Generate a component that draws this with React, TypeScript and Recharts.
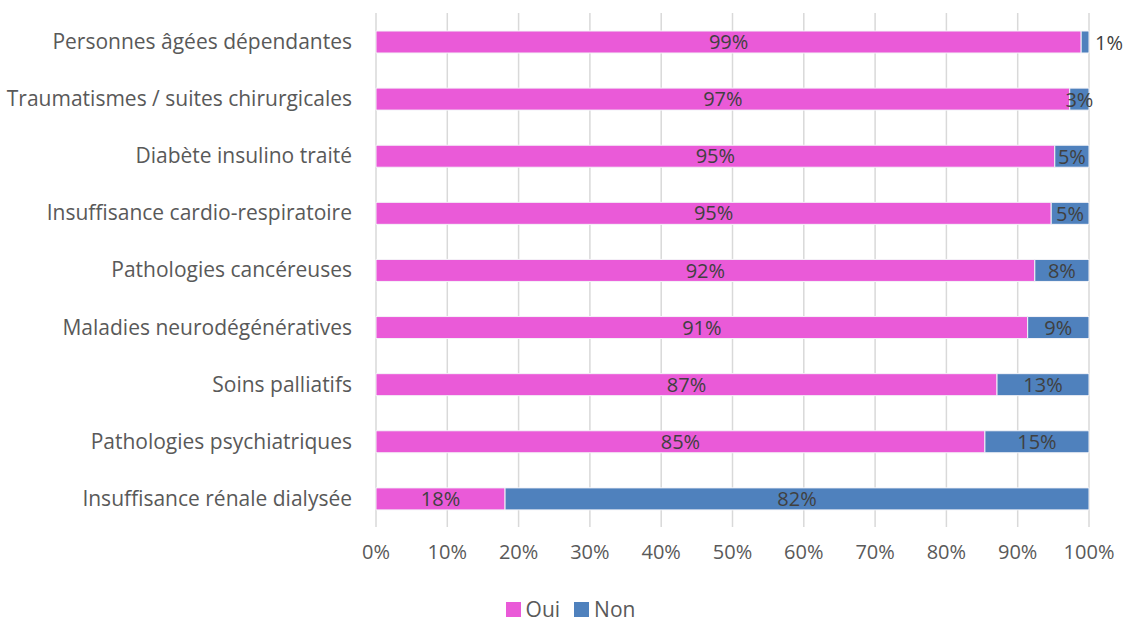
import { BarChart, Bar, XAxis, YAxis, CartesianGrid, LabelList, Legend } from "recharts";

const categories = [
  "Personnes âgées dépendantes",
  "Traumatismes / suites chirurgicales",
  "Diabète insulino traité",
  "Insuffisance cardio-respiratoire",
  "Pathologies cancéreuses",
  "Maladies neurodégénératives",
  "Soins palliatifs",
  "Pathologies psychiatriques",
  "Insuffisance rénale dialysée",
];
const oui = [98.9, 97.3, 95.2, 94.7, 92.4, 91.4, 87.1, 85.4, 18.1];
const non = [1.1, 2.7, 4.8, 5.3, 7.6, 8.6, 12.9, 14.6, 81.9];
const xTicks = [0, 10, 20, 30, 40, 50, 60, 70, 80, 90, 100];

const PINK = "#ea5ad8";
const BLUE = "#4f81bd";
const FONT = "'Open Sans', Lato, sans-serif";

const data = categories.map((name, i) => ({ name, oui: oui[i], non: non[i] }));

const pct = (v: number) => `${Math.round(v)}%`;

function NonLabel(props: any) {
  const { x, y, width, height, value } = props;
  const small = value < 2;
  return (
    <text
      x={small ? x + width + 6 : x + width / 2}
      y={y + height / 2}
      textAnchor={small ? "start" : "middle"}
      dominantBaseline="central"
      fill="#404040"
      fontSize={20}
      fontFamily={FONT}
    >
      {pct(value)}
    </text>
  );
}

function LegendBox() {
  const items = [
    { label: "Oui", color: PINK },
    { label: "Non", color: BLUE },
  ];
  return (
    <div style={{ display: "flex", justifyContent: "center", gap: 14, height: 26, lineHeight: "26px", fontFamily: FONT, fontSize: 21, color: "#595959", paddingLeft: 52 }}>
      {items.map((it) => (
        <div key={it.label} style={{ display: "flex", alignItems: "center", gap: 5 }}>
          <span style={{ width: 15, height: 15, background: it.color, display: "inline-block" }} />
          <span>{it.label}</span>
        </div>
      ))}
    </div>
  );
}

export default function App() {
  return (
    <div style={{ position: "absolute", left: 0, top: 0, background: "#fff" }}>
      <BarChart
        width={1124}
        height={622}
        data={data}
        layout="vertical"
        barSize={22}
        margin={{ top: 13, right: 35, left: 0, bottom: 29 }}
      >
        <CartesianGrid horizontal={false} stroke="#d9d9d9" strokeWidth={1.5} />
        <XAxis
          type="number"
          domain={[0, 100]}
          ticks={xTicks}
          tickFormatter={(v) => `${v}%`}
          axisLine={false}
          tickLine={false}
          tickMargin={12}
          height={40}
          tick={{ fill: "#595959", fontSize: 20, fontFamily: FONT }}
        />
        <YAxis
          type="category"
          dataKey="name"
          width={376}
          axisLine={false}
          tickLine={false}
          tickMargin={18}
          tick={{ fill: "#595959", fontSize: 21, fontFamily: FONT }}
        />
        <Legend verticalAlign="bottom" content={() => <LegendBox />} wrapperStyle={{ bottom: 0 }} />
        <Bar dataKey="oui" stackId="a" fill={PINK} stroke="#f4f4f8" strokeWidth={1} isAnimationActive={false}>
          <LabelList
            dataKey="oui"
            position="center"
            formatter={(v: any) => pct(v)}
            fill="#404040"
            fontSize={20}
            fontFamily={FONT}
          />
        </Bar>
        <Bar dataKey="non" stackId="a" fill={BLUE} stroke="#f4f4f8" strokeWidth={1} isAnimationActive={false}>
          <LabelList dataKey="non" content={NonLabel} />
        </Bar>
      </BarChart>
    </div>
  );
}
